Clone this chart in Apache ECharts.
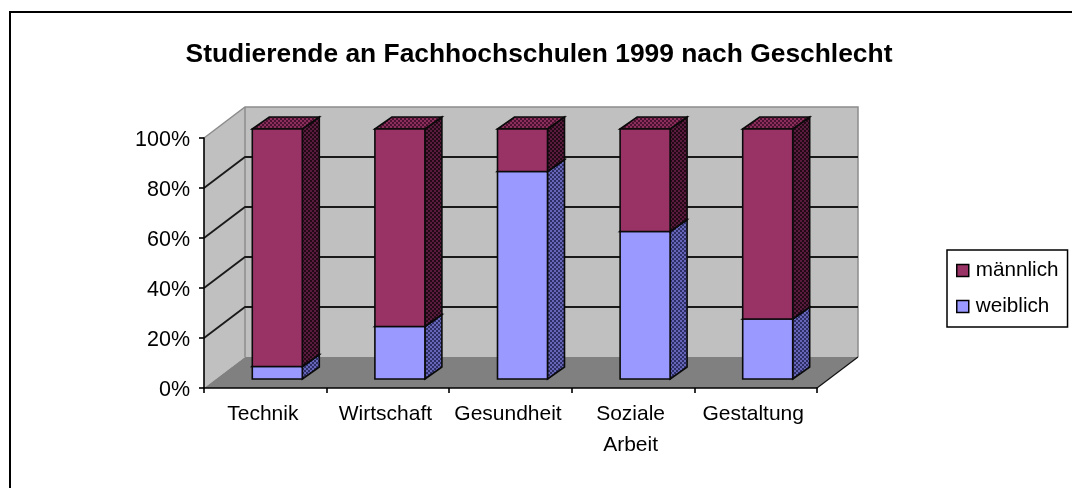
<!DOCTYPE html>
<html><head><meta charset="utf-8">
<style>html,body{margin:0;padding:0;background:#fff}#c{width:1072px;height:488px}</style>
<script src="https://cdn.jsdelivr.net/npm/echarts@6/dist/echarts.min.js"></script>
</head><body><div id="c"></div>
<script>
const categories = ['Technik','Wirtschaft','Gesundheit','Soziale\nArbeit','Gestaltung'];
const weiblich = [5,21,83,59,24];
const maennlich = [95,79,17,41,76];
const yTicks = [0,20,40,60,80,100];
const titleText = 'Studierende an Fachhochschulen 1999 nach Geschlecht';

const WALL = {dx:41, dy:-31};
const BAR = {ox:12, oy:-9, half:25, dx:17, dy:-12};

function dither(a, b) {
  const c = document.createElement('canvas'); c.width = c.height = 4;
  const g = c.getContext('2d');
  g.fillStyle = b; g.fillRect(0,0,4,4);
  g.fillStyle = a; g.fillRect(0,0,2,2); g.fillRect(2,2,2,2);
  return {image:c, repeat:'repeat'};
}
const M = '#993366', W = '#9999ff';
const styles = {
  m:{front:M, side:dither('#5a1c3e','#230816'), top:dither('#8c2e5c','#4a1230')},
  w:{front:W, side:dither('#6666b8','#2e2e66'), top:W}
};
const chart = echarts.init(document.getElementById('c'), null, {renderer:'canvas'});

function poly(points, fill, stroke, lw) {
  return {type:'polygon', shape:{points}, style:{fill, stroke:stroke||'none', lineWidth:lw||0}};
}
function renderWalls(params, api) {
  const a = api.coord([0,0]), t = api.coord([0,100]);
  const x0 = params.coordSys.x, x1 = x0 + params.coordSys.width;
  const {dx,dy} = WALL, yb = a[1], yt = t[1];
  return {type:'group', children:[
    poly([[x0,yb],[x0,yt],[x0+dx,yt+dy],[x0+dx,yb+dy]], '#c0c0c0'),
    poly([[x0+dx,yb+dy],[x0+dx,yt+dy],[x1+dx,yt+dy],[x1+dx,yb+dy]], '#c0c0c0'),
    poly([[x0,yb],[x0+dx,yb+dy],[x1+dx,yb+dy],[x1,yb]], '#808080'),
    {type:'polyline', shape:{points:[[x0,yt],[x0+dx,yt+dy],[x1+dx,yt+dy],[x1+dx,yb+dy]]}, style:{fill:'none',stroke:'#8c8c8c',lineWidth:1.5}},
    {type:'line', shape:{x1:x0+dx,y1:yt+dy,x2:x0+dx,y2:yb+dy}, style:{stroke:'#8c8c8c',lineWidth:1.5}},
    {type:'line', shape:{x1:x1,y1:yb,x2:x1+dx,y2:yb+dy}, style:{stroke:'#111',lineWidth:1.2}}
  ]};
}
function renderGrid(params, api) {
  const v = api.value(0);
  const y = api.coord([0,v])[1];
  const x0 = params.coordSys.x, x1 = x0 + params.coordSys.width;
  return {type:'polyline', shape:{points:[[x0,y],[x0+WALL.dx,y+WALL.dy],[x1+WALL.dx,y+WALL.dy]]},
    style:{fill:'none',stroke:'#1a1a1a',lineWidth:1.8}};
}
function barRenderer(st) {
  return function(params, api) {
    const c = api.coord([api.value(0), api.value(1)]);
    const top = api.coord([api.value(0), api.value(1)+api.value(2)]);
    const l = c[0]+BAR.ox-BAR.half, r = c[0]+BAR.ox+BAR.half;
    const yb = c[1]+BAR.oy, yt = top[1]+BAR.oy;
    const {dx,dy} = BAR, k='#0a0a0a', lw=1.6;
    return {type:'group', children:[
      poly([[r,yb],[r+dx,yb+dy],[r+dx,yt+dy],[r,yt]], st.side, k, lw),
      poly([[l,yt],[l+dx,yt+dy],[r+dx,yt+dy],[r,yt]], st.top, k, lw),
      poly([[l,yb],[l,yt],[r,yt],[r,yb]], st.front, k, lw)
    ]};
  };
}
const wData = categories.map((_,i)=>[i,0,weiblich[i]]);
const mData = categories.map((_,i)=>[i,weiblich[i],maennlich[i]]);
const axisBlack = {show:true, lineStyle:{color:'#000', width:1.6}};
chart.setOption({
  animation:false,
  backgroundColor:'#fff',
  title:{text:titleText, left:534, top:37, textAlign:'center',
    textStyle:{fontFamily:'Liberation Sans',fontWeight:'bold',fontSize:26.4,color:'#000'}},
  legend:{
    data:['männlich','weiblich'], orient:'vertical', left:947, top:250,
    padding:[10,9,10,9], itemGap:15, itemWidth:12, itemHeight:12,
    borderColor:'#000', borderWidth:1.5, backgroundColor:'#fff', selectedMode:false,
    icon:'rect',
    itemStyle:{borderColor:'#000',borderWidth:1.5},
    textStyle:{fontFamily:'Liberation Sans',fontSize:20.7,lineHeight:21,color:'#000',padding:[0,0,0,2]}
  },
  grid:{left:204,right:255,top:138,bottom:100},
  xAxis:{type:'category',data:categories,z:5,boundaryGap:true,
    axisLine:axisBlack,
    axisTick:{show:true,length:5,lineStyle:{color:'#000',width:1.6}},
    axisLabel:{fontFamily:'Liberation Sans',fontSize:21,color:'#000',margin:11,lineHeight:31,interval:0,padding:[0,5,0,0]},
    splitLine:{show:false}},
  yAxis:{type:'value',min:0,max:100,interval:20,z:5,
    axisLine:axisBlack,
    axisTick:{show:true,length:5,lineStyle:{color:'#000',width:1.6}},
    axisLabel:{formatter:'{value}%',fontFamily:'Liberation Sans',fontSize:21.5,color:'#000',margin:14,verticalAlign:'top',lineHeight:5},
    splitLine:{show:false}},
  graphic:[
    {type:'polyline',silent:true,z:100,shape:{points:[[10,488],[10,12],[1072,12]]},style:{fill:'none',stroke:'#000',lineWidth:2}}
  ],
  series:[
    {type:'custom',name:'_walls',silent:true,z:1,coordinateSystem:'cartesian2d',renderItem:renderWalls,data:[[0,0]],encode:{x:0,y:1},clip:false},
    {type:'custom',name:'_grid',silent:true,z:2,coordinateSystem:'cartesian2d',renderItem:renderGrid,data:yTicks.slice(1,-1).map(v=>[v]),encode:{y:0},clip:false},
    {type:'custom',name:'weiblich',z:3,coordinateSystem:'cartesian2d',renderItem:barRenderer(styles.w),data:wData,encode:{x:0,y:[1,2]},clip:false,itemStyle:{color:W}},
    {type:'custom',name:'männlich',z:4,coordinateSystem:'cartesian2d',renderItem:barRenderer(styles.m),data:mData,encode:{x:0,y:[1,2]},clip:false,itemStyle:{color:M}}
  ]
});
</script></body></html>
